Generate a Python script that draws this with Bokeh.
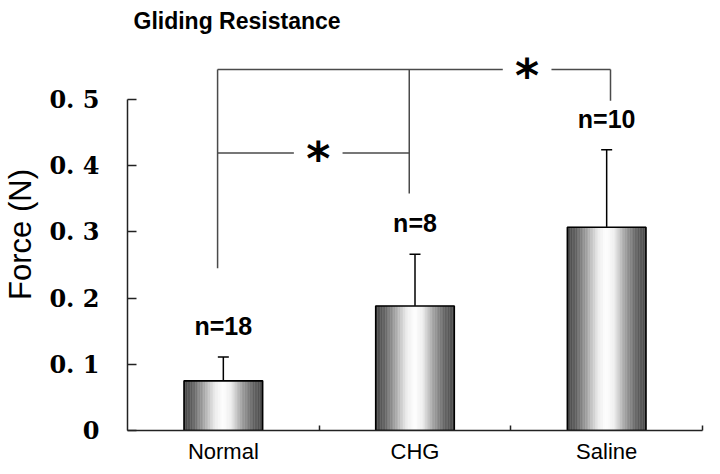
import numpy as np
from bokeh.plotting import figure
from bokeh.models import Range1d, FixedTicker, Whisker, ColumnDataSource, TeeHead
from bokeh.core.properties import value
from bokeh.embed import file_html
from bokeh.resources import INLINE

# ---- data ----
groups = ["Normal", "CHG", "Saline"]
means = [0.075, 0.188, 0.307]
sds = [0.036, 0.078, 0.117]
n_labels = ["n=18", "n=8", "n=10"]
y_ticks = [0, 0.1, 0.2, 0.3, 0.4, 0.5]
y_tick_labels = ["0", "0. 1", "0. 2", "0. 3", "0. 4", "0. 5"]
# significance brackets: levels of the (Normal vs CHG) and (Normal vs Saline) lines
bracket_levels = [0.419, 0.545]
drop_bottoms = [0.245, 0.358, 0.498]
sig_marks = ["*", "*"]

# ---- figure ----
p = figure(width=704, height=466, x_range=Range1d(0, 3), y_range=Range1d(0, 0.592),
           output_backend="svg", toolbar_location=None,
           min_border_left=120, min_border_right=2, min_border_top=38, min_border_bottom=36)
p.xgrid.visible = False
p.ygrid.visible = False
p.outline_line_color = None
p.background_fill_color = "white"

p.title.text = "Gliding Resistance"
p.title.text_font = "Liberation Sans"
p.title.text_font_size = "23px"
p.title.text_font_style = "bold"
p.title.align = "left"
p.title.offset = 6
p.title.standoff = 10
p.title.text_color = "black"

centers = [i + 0.5 for i in range(len(groups))]
bar_w = 0.41

# gradient bars built from thin strips
n_strips = 48
stop_t = [0.0, 0.12, 0.28, 0.40, 0.50, 0.60, 0.72, 0.88, 1.0]
stop_g = [72, 100, 180, 238, 255, 238, 170, 100, 76]
xs, tops, cols = [], [], []
for c, m in zip(centers, means):
    for k in range(n_strips):
        t = (k + 0.5) / n_strips
        g = int(round(np.interp(t, stop_t, stop_g)))
        xs.append(c - bar_w / 2 + t * bar_w)
        tops.append(m)
        cols.append("#%02x%02x%02x" % (g, g, g))
strip_src = ColumnDataSource(dict(x=xs, top=tops, color=cols))
p.vbar(x="x", top="top", bottom=0, width=bar_w / n_strips * 1.02, source=strip_src,
       fill_color="color", line_color="color", line_width=0.4)
p.vbar(x=centers, top=means, bottom=0, width=bar_w, fill_color=None,
       line_color="black", line_width=1.6)

# error bars (upper only)
err_src = ColumnDataSource(dict(x=centers, lower=means,
                                upper=[m + s for m, s in zip(means, sds)]))
p.add_layout(Whisker(base="x", lower="lower", upper="upper", source=err_src,
                     dimension="height", lower_head=None,
                     upper_head=TeeHead(size=11, line_width=1.5, line_color="black"),
                     line_width=1.5, line_color="black"))

# n labels
p.text(x=centers, y=[m + s for m, s in zip(means, sds)], text=n_labels,
       text_font=value("Liberation Sans"), text_font_style="bold", text_font_size="25px",
       text_align="center", text_baseline="middle", y_offset=-31, text_color="black")

# significance brackets
drop_x = [centers[0] - 0.03, centers[1] - 0.03, centers[2] + 0.02]
gap = 0.127
star_low = (drop_x[0] + drop_x[1]) / 2 + 0.025
star_top = (drop_x[1] + drop_x[2]) / 2 + 0.09
lvl_low, lvl_top = bracket_levels
seg_x0 = [drop_x[0], star_low + gap, drop_x[0], star_top + gap,
          drop_x[0], drop_x[1], drop_x[2]]
seg_x1 = [star_low - gap, drop_x[1], star_top - gap, drop_x[2],
          drop_x[0], drop_x[1], drop_x[2]]
seg_y0 = [lvl_low, lvl_low, lvl_top, lvl_top, drop_bottoms[0], drop_bottoms[1], drop_bottoms[2]]
seg_y1 = [lvl_low, lvl_low, lvl_top, lvl_top, lvl_top, lvl_top, lvl_top]
p.segment(x0=seg_x0, y0=seg_y0, x1=seg_x1, y1=seg_y1, line_color="#4a4a4a", line_width=1.5)
p.text(x=[star_low, star_top], y=[lvl_low, lvl_top], text=sig_marks,
       text_font=value("DejaVu Sans"), text_font_style="bold", text_font_size="46px",
       text_align="center", text_baseline="middle", y_offset=6, text_color="black")

# y axis
ya = p.yaxis[0]
ya.ticker = FixedTicker(ticks=y_ticks, minor_ticks=[])
ya.major_label_overrides = {t: l for t, l in zip(y_ticks, y_tick_labels)}
ya.bounds = (0, 0.5)
ya.major_tick_in = 9
ya.major_tick_out = 0
ya.major_tick_line_width = 1.5
ya.axis_line_width = 1.5
ya.axis_line_color = "#222222"
ya.major_tick_line_color = "#222222"
ya.major_label_text_font = "DejaVu Serif"
ya.major_label_text_font_style = "bold"
ya.major_label_text_font_size = "24px"
ya.major_label_text_color = "black"
ya.major_label_standoff = 28
ya.axis_label = "Force (N)"
ya.axis_label_text_font = "Liberation Sans"
ya.axis_label_text_font_style = "normal"
ya.axis_label_text_font_size = "31px"
ya.axis_label_text_color = "black"
ya.axis_label_standoff = 8

# x axis
xa = p.xaxis[0]
xa.ticker = FixedTicker(ticks=centers, minor_ticks=[1, 2, 3])
xa.major_label_overrides = {c: g for c, g in zip(centers, groups)}
xa.major_tick_in = 0
xa.major_tick_out = 0
xa.minor_tick_in = 5
xa.minor_tick_out = 0
xa.minor_tick_line_width = 1.5
xa.minor_tick_line_color = "#222222"
xa.axis_line_width = 1.5
xa.axis_line_color = "#222222"
xa.major_label_text_font = "Liberation Sans"
xa.major_label_text_font_size = "22px"
xa.major_label_text_color = "black"
xa.major_label_standoff = 8

open("out.html", "w").write(file_html(p, INLINE))
